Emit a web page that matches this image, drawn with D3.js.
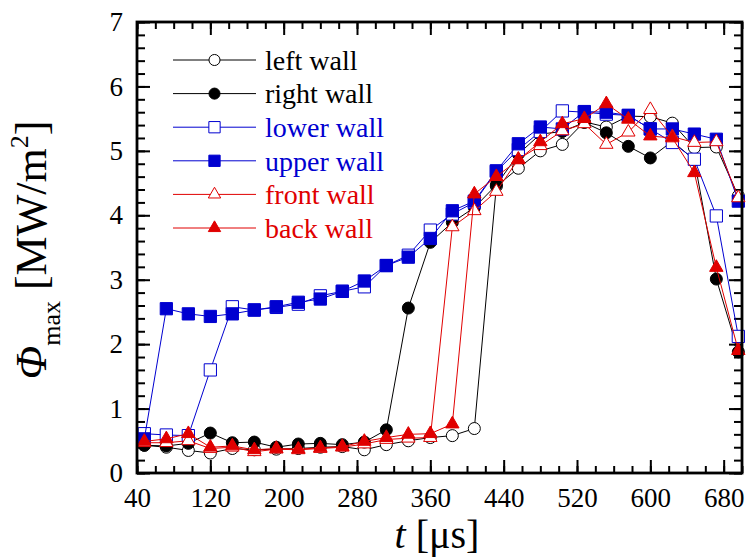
<!DOCTYPE html>
<html>
<head>
<meta charset="utf-8">
<title>Phi max vs t</title>
<script src="https://d3js.org/d3.v7.min.js"></script>
<style>
  body { margin: 0; background: #fff; }
  svg text { font-family: "Liberation Serif", "Times New Roman", serif; fill: #000; }
  .tick line { stroke: #000; stroke-width: 2px; }
  .domain { display: none; }
</style>
</head>
<body>
<svg id="chart" width="750" height="559"></svg>
<script>
// time steps [µs]
const times = [48, 72, 96, 120, 144, 168, 192, 216, 240, 264, 288, 312, 336, 360,
               384, 408, 432, 456, 480, 504, 528, 552, 576, 600, 624, 648, 672, 696];

// Phi_max [MW/m^2] per wall
const leftWall  = [0.43, 0.40, 0.35, 0.31, 0.38, 0.36, 0.37, 0.38, 0.40, 0.41, 0.36, 0.44, 0.50, 0.55,
                   0.58, 0.69, 4.45, 4.73, 5.00, 5.10, 5.45, 5.37, 5.54, 5.53, 5.43, 5.05, 5.06, 4.30];
const rightWall = [0.43, 0.42, 0.46, 0.62, 0.47, 0.48, 0.40, 0.45, 0.46, 0.44, 0.48, 0.67, 2.56, 3.58,
                   3.89, 4.12, 4.47, 4.95, 5.26, 5.30, 5.44, 5.28, 5.07, 4.89, 5.15, 4.86, 3.01, 1.88];
const lowerWall = [0.61, 0.59, 0.58, 1.60, 2.58, 2.53, 2.57, 2.62, 2.75, 2.82, 2.89, 3.22, 3.38, 3.77,
                   4.02, 4.20, 4.68, 5.02, 5.30, 5.62, 5.60, 5.57, 5.55, 5.34, 5.13, 4.87, 3.99, 2.12];
const upperWall = [0.53, 2.55, 2.47, 2.43, 2.47, 2.53, 2.58, 2.65, 2.70, 2.82, 2.98, 3.22, 3.35, 3.64,
                   4.07, 4.22, 4.69, 5.11, 5.37, 5.34, 5.61, 5.60, 5.55, 5.34, 5.34, 5.26, 5.18, 4.22];
const frontWall = [0.47, 0.47, 0.50, 0.38, 0.40, 0.33, 0.37, 0.36, 0.38, 0.40, 0.45, 0.52, 0.54, 0.55,
                   3.82, 4.07, 4.37, 4.87, 5.08, 5.31, 5.42, 5.10, 5.29, 5.64, 5.22, 5.13, 5.14, 4.27];
const backWall  = [0.49, 0.53, 0.61, 0.40, 0.42, 0.36, 0.38, 0.37, 0.39, 0.41, 0.49, 0.55, 0.60, 0.61,
                   0.76, 4.33, 4.60, 4.86, 5.14, 5.42, 5.50, 5.73, 5.49, 5.23, 5.20, 4.66, 3.19, 1.90];

const seriesNames = ["left wall", "right wall", "lower wall", "upper wall", "front wall", "back wall"];

const xTicks = [40, 120, 200, 280, 360, 440, 520, 600, 680];
const yTicks = [0, 1, 2, 3, 4, 5, 6, 7];

const BLACK = "#000000", BLUE = "#0000d0", RED = "#e00000";

const series = [
  { name: seriesNames[0], values: leftWall,  color: BLACK, shape: d3.symbolCircle,   filled: false },
  { name: seriesNames[1], values: rightWall, color: BLACK, shape: d3.symbolCircle,   filled: true },
  { name: seriesNames[2], values: lowerWall, color: BLUE,  shape: d3.symbolSquare,   filled: false },
  { name: seriesNames[3], values: upperWall, color: BLUE,  shape: d3.symbolSquare,   filled: true },
  { name: seriesNames[4], values: frontWall, color: RED,   shape: d3.symbolTriangle, filled: false },
  { name: seriesNames[5], values: backWall,  color: RED,   shape: d3.symbolTriangle, filled: true }
];

const symbolSize = new Map([[d3.symbolCircle, 113], [d3.symbolSquare, 150], [d3.symbolTriangle, 78]]);

const svg = d3.select("#chart");
const plotL = 137, plotR = 742, plotT = 22, plotB = 473;

const x = d3.scaleLinear().domain([40, 700]).range([plotL, plotR]);
const y = d3.scaleLinear().domain([0, 7]).range([plotB, plotT]);

// axes: major + minor ticks on all four sides, pointing inwards
const xMinor = d3.range(40, 701, 20);
const yMinor = d3.range(0, 7.001, 0.2);

svg.append("g").attr("transform", `translate(0,${plotB})`)
  .call(d3.axisBottom(x).tickValues(xMinor).tickSize(-7).tickSizeOuter(0).tickFormat(""));
svg.append("g").attr("transform", `translate(0,${plotB})`)
  .call(d3.axisBottom(x).tickValues(xTicks).tickSize(-13).tickSizeOuter(0).tickPadding(14.5).tickFormat(d3.format("d")))
  .call(g => g.selectAll("text").attr("font-size", 27));
svg.append("g").attr("transform", `translate(0,${plotT})`)
  .call(d3.axisTop(x).tickValues(xMinor).tickSize(-7).tickSizeOuter(0).tickFormat(""));
svg.append("g").attr("transform", `translate(0,${plotT})`)
  .call(d3.axisTop(x).tickValues(xTicks).tickSize(-13).tickSizeOuter(0).tickFormat(""));

svg.append("g").attr("transform", `translate(${plotL},0)`)
  .call(d3.axisLeft(y).tickValues(yMinor).tickSize(-8).tickSizeOuter(0).tickFormat(""));
svg.append("g").attr("transform", `translate(${plotL},0)`)
  .call(d3.axisLeft(y).tickValues(yTicks).tickSize(-13).tickSizeOuter(0).tickPadding(14).tickFormat(d3.format("d")))
  .call(g => g.selectAll("text").attr("font-size", 27));
svg.append("g").attr("transform", `translate(${plotR},0)`)
  .call(d3.axisRight(y).tickValues(yMinor).tickSize(-8).tickSizeOuter(0).tickFormat(""));
svg.append("g").attr("transform", `translate(${plotR},0)`)
  .call(d3.axisRight(y).tickValues(yTicks).tickSize(-13).tickSizeOuter(0).tickFormat(""));

svg.selectAll("g text").attr("font-family", "Liberation Serif, serif");

// series
const line = d3.line().x((d, i) => x(times[i])).y(d => y(d));

series.forEach(s => {
  const g = svg.append("g");
  g.append("path")
    .attr("d", line(s.values))
    .attr("fill", "none")
    .attr("stroke", s.color)
    .attr("stroke-width", 1);
  g.selectAll("path.mark")
    .data(s.values)
    .join("path")
      .attr("class", "mark")
      .attr("transform", (d, i) => `translate(${x(times[i])},${y(d)})`)
      .attr("d", d3.symbol(s.shape, symbolSize.get(s.shape)))
      .attr("fill", s.filled ? s.color : "#fff")
      .attr("stroke", s.color)
      .attr("stroke-width", 1);
});

// frame
svg.append("rect")
  .attr("x", plotL).attr("y", plotT)
  .attr("width", plotR - plotL).attr("height", plotB - plotT)
  .attr("fill", "none").attr("stroke", "#000").attr("stroke-width", 2.8);

// legend
const legend = svg.append("g");
series.forEach((s, i) => {
  const ly = 60 + i * 33.6;
  legend.append("line")
    .attr("x1", 173).attr("x2", 256).attr("y1", ly).attr("y2", ly)
    .attr("stroke", s.color).attr("stroke-width", 1);
  legend.append("path")
    .attr("transform", `translate(214.5,${ly})`)
    .attr("d", d3.symbol(s.shape, symbolSize.get(s.shape) * 0.85))
    .attr("fill", s.filled ? s.color : "#fff")
    .attr("stroke", s.color).attr("stroke-width", 1);
  legend.append("text")
    .attr("x", 265).attr("y", ly).attr("dy", "0.35em")
    .attr("font-size", 28)
    .style("fill", s.color)
    .text(s.name);
});

// axis titles
const xt = svg.append("text")
  .attr("x", 437).attr("y", 548)
  .attr("text-anchor", "middle")
  .attr("font-size", 40);
xt.append("tspan").attr("font-style", "italic").text("t");
xt.append("tspan").text(" [μs]");

const yt = svg.append("text")
  .attr("transform", "translate(46,250) rotate(-90)")
  .attr("text-anchor", "middle")
  .attr("font-size", 44);
yt.append("tspan").attr("font-style", "italic").text("Φ");
yt.append("tspan").attr("font-size", 26).attr("dy", 14).text("max");
yt.append("tspan").attr("dy", -14).text(" [MW/m");
yt.append("tspan").attr("font-size", 26).attr("dy", -18).text("2");
yt.append("tspan").attr("dy", 18).text("]");
</script>
</body>
</html>
